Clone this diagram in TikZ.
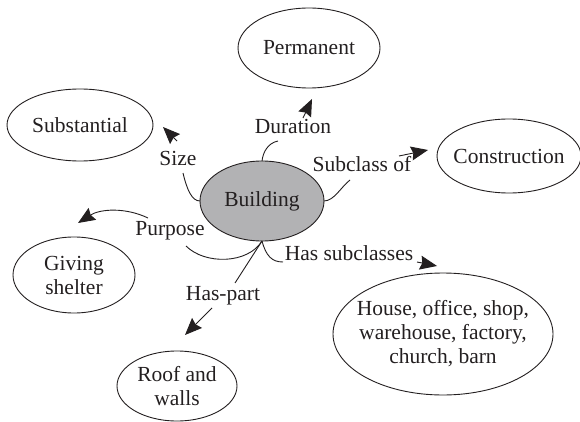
\documentclass[tikz,border=0pt]{standalone}
\usepackage{fontspec}
\setmainfont{Liberation Serif}
\usetikzlibrary{shapes.geometric,arrows.meta}
\definecolor{bgray}{RGB}{178,178,180}
\definecolor{ink}{RGB}{35,31,32}
\begin{document}
\begin{tikzpicture}[x=1pt,y=-1pt,
  font=\fontsize{21.5}{24}\selectfont,
  ell/.style={draw=ink, ellipse, line width=0.9pt, inner sep=0pt, outer sep=0pt},
  lbl/.style={inner sep=1pt, text=ink},
  rel/.style={lbl, text height=0.68em, text depth=0pt},
  conn/.style={draw=ink, line width=0.9pt},
  arr/.style={conn, -{Stealth[length=17pt,width=14pt,inset=2pt]}}]
\useasboundingbox (0,0) rectangle (580,422);

% concept ellipses
\node[ell, fill=bgray, minimum width=124pt, minimum height=80pt,
      label={[lbl]center:Building}] (bld) at (262,201) {};
\node[ell, minimum width=142pt, minimum height=80pt,
      label={[lbl]center:Permanent}] (perm) at (309,48) {};
\node[ell, minimum width=146pt, minimum height=72pt,
      label={[lbl]center:Substantial}] (subst) at (80,125) {};
\node[ell, minimum width=144pt, minimum height=74pt,
      label={[lbl]center:Construction}] (cons) at (509,156) {};
\node[ell, minimum width=122pt, minimum height=76pt,
      label={[lbl,align=center]center:Giving\\shelter}] (give) at (74,275) {};
\node[ell, minimum width=120pt, minimum height=70pt,
      label={[lbl,align=center]center:Roof and\\walls}] (roof) at (177,386) {};
\node[ell, minimum width=220pt, minimum height=122pt,
      label={[lbl,align=center]center:House, office, shop,\\warehouse, factory,\\church, barn}] (house) at (443,334) {};

% relation labels
\node[rel] (dur) at (293,130) {Duration};
\node[rel] (size) at (178,162) {Size};
\node[rel] (subof) at (362,168) {Subclass of};
\node[rel] (purp) at (170,232) {Purpose};
\node[rel] (hsub) at (349,257) {Has subclasses};
\node[rel] (hpart) at (223,297) {Has-part};

% connectors from Building to labels
\coordinate (durA) at (278,141);
\draw[conn] (bld.north) .. controls (263,152) and (268,143) .. (durA);
\coordinate (sizeA) at (183,173);
\draw[conn] (sizeA) .. controls (187,190) and (192,201) .. (bld.west);
\coordinate (subA) at (350,180);
\draw[conn] (bld.east) .. controls (334,201) and (341,187) .. (subA);
\coordinate (purA) at (186,246);
\draw[conn] (purA) .. controls (205,265) and (248,264) .. (bld.south);
\coordinate (hpA) at (235,283);
\draw[conn] (bld.south) -- (hpA);
\coordinate (hsA) at (283,262);
\draw[conn] (bld.south) .. controls (266,256) and (272,262) .. (hsA);

% arrows from labels towards targets
\coordinate (durB) at (303,118); \coordinate (durT) at (312,99);
\draw[arr] (durB) -- (durT);
\coordinate (sizeB) at (177,141); \coordinate (sizeT) at (163,127);
\draw[arr] (sizeB) -- (sizeT);
\coordinate (subB) at (399,156); \coordinate (subT) at (428,150);
\draw[arr] (subB) -- (subT);
\coordinate (purB) at (148,218); \coordinate (purT) at (78,223);
\draw[arr] (purB) .. controls (125,207) and (100,209) .. (purT);
\coordinate (hpB) at (212,308); \coordinate (hpT) at (185,335);
\draw[arr] (hpB) -- (hpT);
\coordinate (hsB) at (417,262); \coordinate (hsT) at (437,266);
\draw[arr] (hsB) -- (hsT);
\end{tikzpicture}
\end{document}
